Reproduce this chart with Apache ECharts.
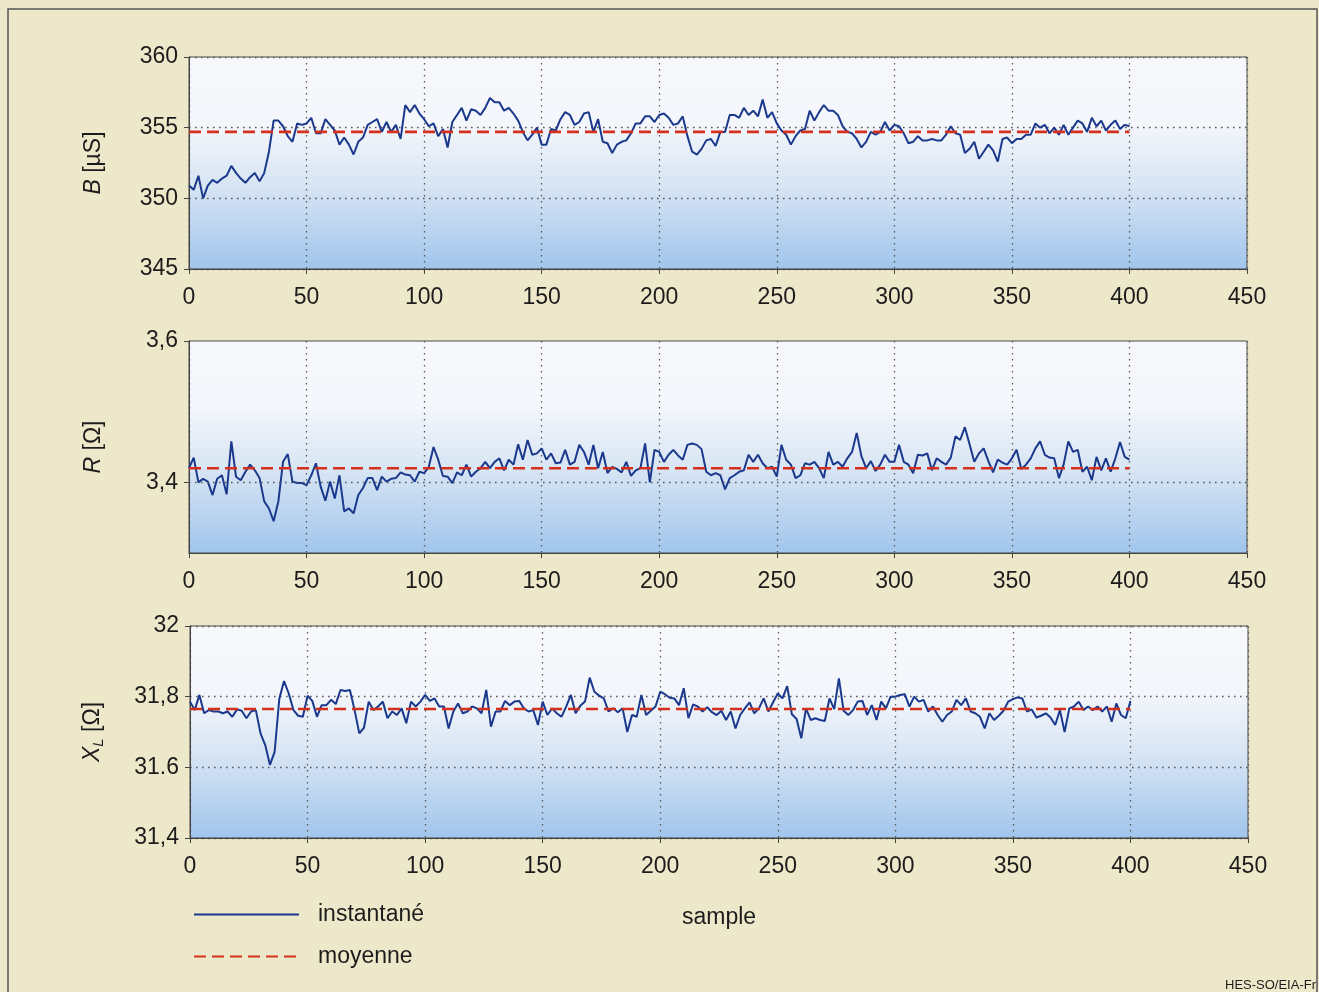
<!DOCTYPE html>
<html><head><meta charset="utf-8">
<script src="https://cdn.jsdelivr.net/npm/echarts@6/dist/echarts.min.js"></script>
<style>html,body{margin:0;padding:0;background:#eee8ca;}#c{width:1319px;height:992px;}</style>
</head><body><div id="c"></div>
<script>
// ---- data ----
const SAMPLE_STEP = 2; // one value every 2 samples (0..400)
const xTickLabels = ['0','50','100','150','200','250','300','350','400','450'];
const bTickLabels = ['345','350','355','360'];
const rTickValues = [3.4, 3.6];
const rTickLabels = ['3,4','3,6'];
const xlTickLabels = ['31,4','31.6','31,8','32'];

const bValues = [
350.9,350.6,351.6,350.0,350.9,351.3,351.1,351.4,351.6,352.3,351.8,351.4,351.1,351.5,351.8,351.2,351.8,353.3,355.5,355.5,
355.1,354.4,354.0,355.3,355.2,355.3,355.7,354.6,354.6,355.6,355.2,354.8,353.8,354.3,353.8,353.1,354.0,354.3,355.2,355.4,
355.6,354.7,355.4,354.7,355.2,354.2,356.6,356.1,356.6,356.0,355.6,355.1,355.3,354.4,354.9,353.6,355.4,355.9,356.4,355.5,
356.3,356.2,355.9,356.4,357.1,356.8,356.8,356.2,
356.4,356.0,355.5,354.7,354.1,354.5,355.0,353.8,353.8,354.9,354.8,355.6,356.1,355.9,355.2,355.4,356.0,356.1,354.7,355.6,
354.0,353.9,353.2,353.8,354.0,354.1,354.6,355.3,355.3,355.8,355.8,355.4,355.9,356.0,355.7,355.2,355.3,355.8,354.4,353.3,
353.1,353.5,354.1,354.2,353.7,354.7,354.7,355.9,355.9,355.7,356.4,355.9,356.2,355.8,357.0,355.7,356.1,355.3,354.8,354.5,
353.8,354.4,354.8,354.9,356.2,355.5,
356.1,356.6,356.2,356.2,355.9,355.1,354.7,354.6,354.2,353.6,354.0,354.7,354.5,354.7,355.4,354.8,355.2,355.1,354.6,353.9,
354.0,354.4,354.1,354.1,354.2,354.1,354.1,354.5,355.1,354.6,354.5,353.2,353.5,354.0,352.8,353.3,353.8,353.4,352.6,354.2,
354.3,353.9,354.2,354.2,354.5,354.5,355.3,355.0,355.2,354.6,355.0,354.5,355.2,354.5,355.0,355.5,355.3,354.7,355.7,355.1,
355.5,354.8,355.2,355.5,354.9,355.2,355.1
];
const rValues = [
3.420,3.435,3.400,3.405,3.401,3.382,3.405,3.410,3.383,3.458,3.408,3.403,3.415,3.425,3.417,3.406,3.373,3.363,3.345,3.373,
3.429,3.440,3.401,3.399,3.399,3.396,3.410,3.427,3.394,3.374,3.401,3.377,3.410,3.359,3.363,3.356,3.382,3.392,3.406,3.406,
3.389,3.408,3.401,3.405,3.406,3.414,3.411,3.410,3.401,3.415,3.413,3.422,3.450,3.432,3.409,3.408,3.399,3.414,3.410,3.425,
3.408,3.415,3.420,3.429,3.420,3.429,3.434,3.417,
3.432,3.425,3.454,3.432,3.460,3.439,3.441,3.448,3.432,3.441,3.427,3.428,3.446,3.425,3.429,3.453,3.443,3.425,3.453,3.420,
3.443,3.413,3.422,3.419,3.414,3.429,3.409,3.417,3.420,3.455,3.400,3.446,3.443,3.429,3.439,3.446,3.438,3.432,3.453,3.455,
3.453,3.447,3.415,3.410,3.413,3.410,3.390,3.406,3.410,3.415,3.417,3.439,3.429,3.439,3.427,3.420,3.422,3.408,3.453,3.432,
3.425,3.406,3.410,3.427,3.425,3.429,
3.420,3.406,3.443,3.425,3.429,3.422,3.434,3.443,3.470,3.437,3.420,3.430,3.416,3.425,3.439,3.429,3.429,3.453,3.429,3.425,
3.413,3.439,3.438,3.441,3.417,3.434,3.429,3.425,3.435,3.465,3.460,3.478,3.454,3.429,3.441,3.448,3.430,3.414,3.432,3.428,
3.425,3.434,3.446,3.419,3.425,3.434,3.448,3.458,3.439,3.435,3.434,3.406,3.425,3.458,3.443,3.446,3.415,3.422,3.403,3.436,
3.417,3.434,3.415,3.434,3.457,3.436,3.432
];
const xlValues = [
31.786,31.762,31.805,31.753,31.762,31.758,31.758,31.753,31.758,31.743,31.764,31.760,31.739,31.758,31.762,31.696,31.663,31.607,31.644,31.795,
31.844,31.809,31.762,31.746,31.743,31.803,31.788,31.743,31.776,31.776,31.791,31.779,31.819,31.816,31.819,31.762,31.696,31.712,31.786,31.762,
31.772,31.786,31.739,31.758,31.748,31.767,31.725,31.786,31.772,31.786,31.805,31.788,31.795,31.772,31.772,31.710,31.758,31.781,31.753,31.758,
31.772,31.767,31.753,31.819,31.715,31.758,31.758,31.788,
31.776,31.786,31.788,31.767,31.758,31.762,31.720,31.786,31.748,31.767,31.753,31.743,31.772,31.805,31.753,31.774,31.786,31.854,31.814,31.803,
31.795,31.758,31.767,31.756,31.767,31.700,31.748,31.743,31.805,31.748,31.760,31.772,31.814,31.807,31.797,31.795,31.776,31.824,31.739,31.778,
31.772,31.758,31.770,31.756,31.748,31.760,31.734,31.758,31.710,31.748,31.767,31.784,31.753,31.767,31.795,31.758,31.784,31.809,31.795,31.830,
31.750,31.737,31.682,31.767,31.734,31.739,
31.734,31.731,31.795,31.765,31.852,31.760,31.748,31.762,31.786,31.788,31.748,31.776,31.734,31.786,31.767,31.800,31.800,31.805,31.807,31.772,
31.800,31.786,31.791,31.758,31.772,31.748,31.729,31.748,31.758,31.791,31.776,31.795,31.758,31.753,31.743,31.710,31.753,31.734,31.746,31.760,
31.786,31.793,31.798,31.795,31.758,31.764,31.741,31.746,31.753,31.741,31.720,31.762,31.700,31.767,31.772,31.786,31.762,31.772,31.762,31.772,
31.758,31.772,31.729,31.781,31.748,31.739,31.788
];
const bMean = 354.7;
const rMean = 3.42;
const xlMean = 31.765;
const meanSpan = [0, 400];

// ---- chart ----
const FONT = '"Liberation Sans", Arial, Helvetica, sans-serif';
const TXT = '#1c1c1c';
const toPairs = arr => arr.map((v, i) => [i * SAMPLE_STEP, v]);
const meanPairs = m => meanSpan.map(x => [x, m]);

const plotBg = {type:'linear', x:0, y:0, x2:0, y2:1, colorStops:[
  {offset:0, color:'#f7f8fc'}, {offset:0.32, color:'#f3f6fb'}, {offset:0.6, color:'#d8e5f4'}, {offset:1, color:'#a0c5ec'}]};
const grids = [
  {left:189, top:57, width:1058, height:212},
  {left:189, top:341, width:1058, height:212},
  {left:190, top:626, width:1058, height:212}
].map(g => Object.assign(g, {show:true, backgroundColor:plotBg, borderColor:'#4a4a4a', borderWidth:1}));

const dotted = {color:'#5a5a5a', type:[1.6,4.4], width:1.3};
function xAxisCfg(gi, name) {
  return {type:'value', gridIndex:gi, min:0, max:450, interval:50,
    axisLine:{show:true, onZero:false, lineStyle:{color:'#444'}},
    axisTick:{show:true, length:5, lineStyle:{color:'#444'}},
    axisLabel:{fontSize:23, color:TXT, margin:17, fontFamily:FONT,
      formatter:(v) => xTickLabels[Math.round(v/50)]},
    splitLine:{show:true, lineStyle:dotted},
    name:name || '', nameLocation:'middle', nameGap:68,
    nameTextStyle:{fontSize:23, color:TXT, fontFamily:FONT}};
}
const yNameRich = {
  i:{fontSize:23, fontStyle:'italic', color:TXT, fontFamily:FONT},
  n:{fontSize:23, color:TXT, fontFamily:FONT},
  s:{fontSize:15, fontStyle:'italic', color:TXT, fontFamily:FONT, padding:[12,0,0,0]}
};
function yAxisCfg(gi, min, max, interval, labels, name) {
  return {type:'value', gridIndex:gi, min:min, max:max, interval:interval,
    axisLine:{show:true, lineStyle:{color:'#444'}},
    axisTick:{show:true, length:5, lineStyle:{color:'#444'}},
    axisLabel:{fontSize:23, color:TXT, margin:11, fontFamily:FONT,
      formatter:(v) => labels[Math.round((v - min)/interval)]},
    splitLine:{show:true, lineStyle:dotted},
    name:name, nameLocation:'middle', nameGap:84, nameRotate:90,
    nameTextStyle:{rich:yNameRich}};
}
const yR = {type:'value', gridIndex:1, min:3.3, max:3.6, interval:0.1,
  axisLine:{show:true, lineStyle:{color:'#444'}},
  axisTick:{show:true, length:5, lineStyle:{color:'#444'}, customValues:rTickValues},
  axisLabel:{fontSize:23, color:TXT, margin:11, fontFamily:FONT, customValues:rTickValues,
    formatter:(v) => { const k = rTickValues.findIndex(t => Math.abs(t - v) < 1e-6); return k < 0 ? '' : rTickLabels[k]; }},
  splitLine:{show:false},
  name:'{i|R}{n| [Ω]}', nameLocation:'middle', nameGap:84, nameRotate:90,
  nameTextStyle:{rich:yNameRich}};

function instSeries(gi, vals) {
  return {name:'instantané', type:'line', xAxisIndex:gi, yAxisIndex:gi, data:toPairs(vals),
    symbol:'none', showSymbol:false, lineStyle:{color:'#1b398c', width:2}, itemStyle:{color:'#1b398c'},
    animation:false, z:3};
}
function meanSeries(gi, m) {
  return {name:'moyenne', type:'line', xAxisIndex:gi, yAxisIndex:gi, data:meanPairs(m),
    symbol:'none', showSymbol:false, lineStyle:{color:'#d4301c', width:2.6, type:[12,6]}, itemStyle:{color:'#d4301c'},
    animation:false, z:4};
}
const rGrid = instSeries(1, rValues);
rGrid.markLine = {silent:true, symbol:'none', label:{show:false}, lineStyle:dotted, animation:false,
  data:[{yAxis:rTickValues[0]}]};

const chart = echarts.init(document.getElementById('c'), null, {renderer:'canvas'});
chart.setOption({
  backgroundColor:'#eee8ca',
  animation:false,
  textStyle:{fontFamily:FONT},
  grid:grids,
  xAxis:[xAxisCfg(0), xAxisCfg(1), xAxisCfg(2, 'sample')],
  yAxis:[
    yAxisCfg(0, 345, 360, 5, bTickLabels, '{i|B}{n| [µS]}'),
    yR,
    yAxisCfg(2, 31.4, 32, 0.2, xlTickLabels, '{i|X}{s|L}{n| [Ω]}')
  ],
  legend:{data:['instantané','moyenne'], orient:'vertical', left:193, top:903, padding:0,
    itemWidth:105, itemHeight:14, itemGap:19,
    itemStyle:{color:'transparent', borderWidth:0, opacity:0},
    textStyle:{fontSize:23, color:TXT, fontFamily:FONT, padding:[0,0,0,14]}},
  graphic:[
    {type:'rect', shape:{x:8, y:9, width:1309, height:1010}, style:{fill:'none', stroke:'#555', lineWidth:1.5}, silent:true, z:-1},
    {type:'text', right:3, bottom:0, style:{text:'HES-SO/EIA-Fr', font:'13px ' + FONT, fill:TXT}}
  ],
  series:[
    instSeries(0, bValues), meanSeries(0, bMean),
    rGrid, meanSeries(1, rMean),
    instSeries(2, xlValues), meanSeries(2, xlMean)
  ]
});
</script></body></html>
